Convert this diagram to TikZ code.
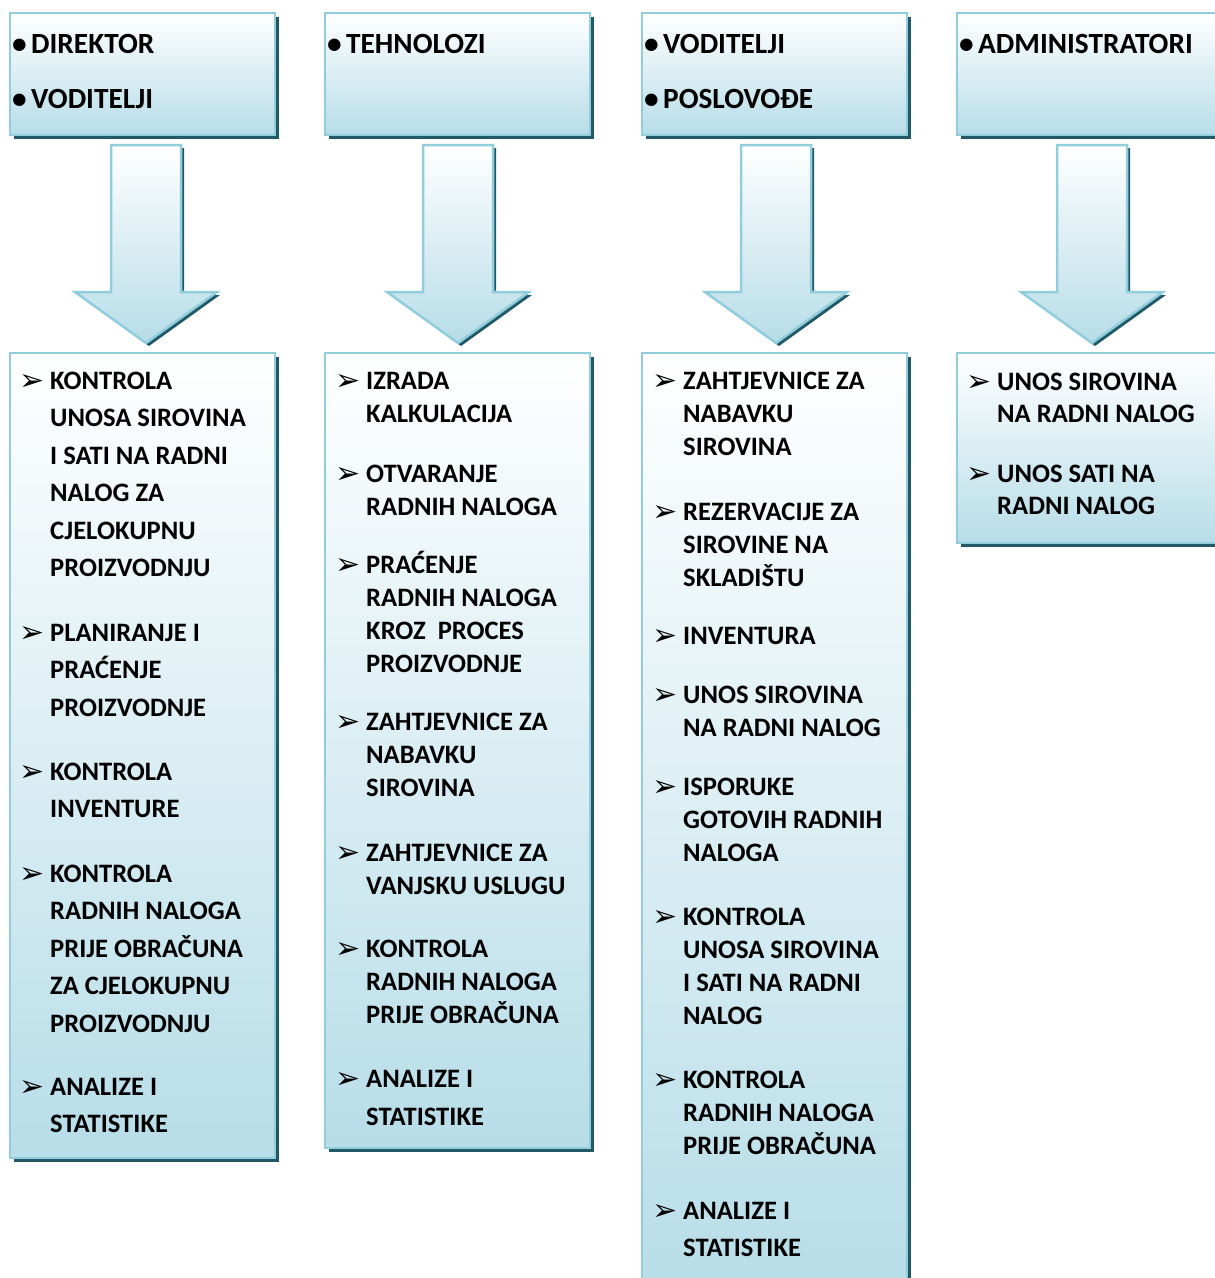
\documentclass[tikz,border=0pt]{standalone}
\usepackage{fontspec}
\setmainfont{Carlito}
\newfontfamily\djv{DejaVu Sans}
\usetikzlibrary{shadows}
\definecolor{aquab}{RGB}{183,221,232}
\definecolor{aquaborder}{RGB}{146,205,220}
\definecolor{aquashadow}{RGB}{33,89,104}
\newcommand\hb{\makebox[19pt][l]{•}}
\newcommand\lines[1]{\begin{tabular}[t]{@{}l@{}}#1\end{tabular}}
\tikzset{
  x=1pt, y=-1pt,
  panel/.style={draw=aquaborder, line width=2.5pt, top color=white, bottom color=aquab,
    drop shadow={shadow xshift=4pt, shadow yshift=-4pt, opacity=1, fill=aquashadow},
    anchor=north west, inner sep=0, outer sep=0},
  blockarrow/.style={draw=aquaborder, line width=2.5pt, top color=white, bottom color=aquab,
    drop shadow={shadow xshift=3pt, shadow yshift=-3pt, opacity=1, fill=aquashadow}},
  htxt/.style={anchor=base west, inner sep=0,
    font=\bfseries\fontsize{29.3}{55}\selectfont},
  itmA/.style={anchor=base west, inner sep=0,
    font=\bfseries\fontsize{26.6}{37.5}\selectfont},
  itmB/.style={anchor=base west, inner sep=0,
    font=\bfseries\fontsize{26.6}{33}\selectfont},
  itmC/.style={anchor=base west, inner sep=0,
    font=\bfseries\fontsize{26.6}{32.5}\selectfont},
  bul/.style={anchor=base west, inner sep=0, font=\djv\fontsize{30}{30}\selectfont},
}
\newcommand\bitem[5]{%
  \node[bul] (#2b) at (#3-31,#4+1) {➢};
  \node[#1] (#2) at (#3,#4) {\lines{#5}};}
\begin{document}
\begin{tikzpicture}
\useasboundingbox (0,0) rectangle (1215,1278);
\clip (0,0) rectangle (1215,1278);
% header panels
\node[panel, minimum width=265, minimum height=122] (h1) at (10,13) {};
\node[panel, minimum width=265, minimum height=122] (h2) at (325,13) {};
\node[panel, minimum width=265, minimum height=122] (h3) at (642,13) {};
\node[panel, minimum width=275, minimum height=122] (h4) at (957,13) {};
% body panels
\node[panel, minimum width=265, minimum height=805] (b1) at (10,353) {};
\node[panel, minimum width=265, minimum height=795] (b2) at (325,353) {};
\node[panel, minimum width=265, minimum height=940] (b3) at (642,353) {};
\node[panel, minimum width=275, minimum height=190] (b4) at (957,353) {};
% block arrows
\foreach \c [count=\i] in {146,458,776,1092}{
  \coordinate (a\i) at (\c,145);
  \path[blockarrow] (\c-35,145) -- (\c+35,145) -- (\c+35,292) -- (\c+71,292)
     -- (\c,343) -- (\c-71,292) -- (\c-35,292) -- cycle;
}
% header texts
\node[htxt] (h1t) at (12,53) {\lines{\hb DIREKTOR\\\hb VODITELJI}};
\node[htxt] (h2t) at (327,53) {\lines{\hb TEHNOLOZI}};
\node[htxt] (h3t) at (644,53) {\lines{\hb VODITELJI\\\hb POSLOVOĐE}};
\node[htxt] (h4t) at (959,53) {\lines{\hb ADMINISTRATORI}};
% column 1
\bitem{itmA}{p1}{50}{389}{KONTROLA\\UNOSA SIROVINA\\I SATI NA RADNI\\NALOG ZA\\CJELOKUPNU\\PROIZVODNJU}
\bitem{itmA}{p2}{50}{641}{PLANIRANJE I\\PRAĆENJE\\PROIZVODNJE}
\bitem{itmA}{p3}{50}{780}{KONTROLA\\INVENTURE}
\bitem{itmA}{p4}{50}{882}{KONTROLA\\RADNIH NALOGA\\PRIJE OBRAČUNA\\ZA CJELOKUPNU\\PROIZVODNJU}
\bitem{itmA}{p5}{50}{1095}{ANALIZE I\\STATISTIKE}
% column 2
\bitem{itmB}{q1}{366}{389}{IZRADA\\KALKULACIJA}
\bitem{itmB}{q2}{366}{482}{OTVARANJE\\RADNIH NALOGA}
\bitem{itmB}{q3}{366}{573}{PRAĆENJE\\RADNIH NALOGA\\KROZ\ \ PROCES\\PROIZVODNJE}
\bitem{itmB}{q4}{366}{730}{ZAHTJEVNICE ZA\\NABAVKU\\SIROVINA}
\bitem{itmB}{q5}{366}{861}{ZAHTJEVNICE ZA\\VANJSKU USLUGU}
\bitem{itmB}{q6}{366}{957}{KONTROLA\\RADNIH NALOGA\\PRIJE OBRAČUNA}
\bitem{itmB}{q7}{366}{1087}{ANALIZE I\\[5pt]STATISTIKE}
% column 3
\bitem{itmB}{r1}{683}{389}{ZAHTJEVNICE ZA\\NABAVKU\\SIROVINA}
\bitem{itmB}{r2}{683}{520}{REZERVACIJE ZA\\SIROVINE NA\\SKLADIŠTU}
\bitem{itmB}{r3}{683}{644}{INVENTURA}
\bitem{itmB}{r4}{683}{703}{UNOS SIROVINA\\NA RADNI NALOG}
\bitem{itmB}{r5}{683}{795}{ISPORUKE\\GOTOVIH RADNIH\\NALOGA}
\bitem{itmB}{r6}{683}{925}{KONTROLA\\UNOSA SIROVINA\\I SATI NA RADNI\\NALOG}
\bitem{itmB}{r7}{683}{1088}{KONTROLA\\RADNIH NALOGA\\PRIJE OBRAČUNA}
\bitem{itmB}{r8}{683}{1219}{ANALIZE I\\[4pt]STATISTIKE}
% column 4
\bitem{itmC}{s1}{997}{390}{UNOS SIROVINA\\NA RADNI NALOG}
\bitem{itmC}{s2}{997}{482}{UNOS SATI NA\\RADNI NALOG}
\end{tikzpicture}
\end{document}
